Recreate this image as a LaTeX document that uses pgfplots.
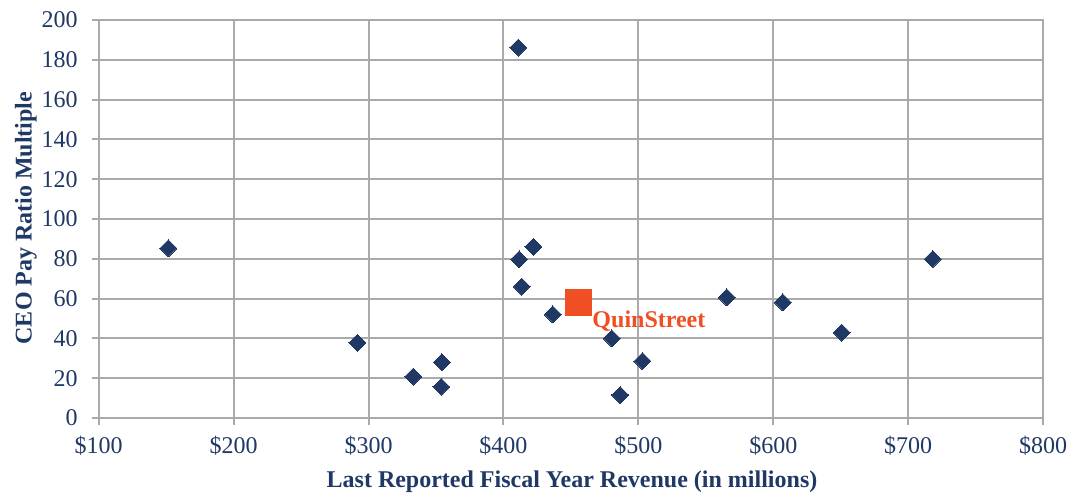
\documentclass[border=0pt]{standalone}
\usepackage{pgfplots}
\pgfplotsset{compat=1.18}
\usepackage{fontspec}
\setmainfont{Liberation Serif}
\definecolor{navy}{RGB}{31,56,100}
\definecolor{qorange}{RGB}{240,78,35}
\definecolor{gridgray}{RGB}{170,170,170}
\begin{document}
\begin{tikzpicture}
\path[use as bounding box] (-49.35pt,-37.5pt) rectangle (484.65pt,209pt);
\begin{axis}[
  at={(0,0)}, anchor=south west,
  scale only axis, width=472.2pt, height=199pt,
  xmin=100, xmax=800, ymin=0, ymax=200,
  xtick={100,200,...,800}, ytick={0,20,...,200},
  xticklabels={\$100,\$200,\$300,\$400,\$500,\$600,\$700,\$800},
  xtick pos=bottom, ytick pos=left,
  grid=major, major grid style={gridgray, line width=1pt},
  axis line style={gridgray, line width=1pt},
  tick style={gridgray, line width=1pt},
  tick align=outside, major tick length=3.5pt,
  tick label style={font=\fontsize{12}{14}\selectfont, text=navy},
  xticklabel style={yshift=-2pt},
  yticklabel style={xshift=-3.5pt},
  /pgf/number format/assume math mode=true,
  clip=false,
]
\addplot[only marks, mark=square*, mark size=3pt, mark options={rotate=45, fill=navy, draw=navy, line width=0pt}] coordinates {
  (151.6,85.3) (291.7,37.8) (333.2,20.8) (354.4,28.0) (353.9,15.7)
  (411.0,186.1) (411.6,79.7) (413.6,66.0) (422.2,86.1) (436.5,52.1)
  (480.3,40.0) (486.5,11.6) (503.0,28.6) (565.5,60.6) (607.0,58.1)
  (650.8,42.9) (718.2,79.9)
};
\addplot[only marks, mark=square*, mark size=6.5pt, mark options={fill=qorange, draw=qorange, line width=0pt}] coordinates {(455.5,58.0)};
\node[anchor=base west, inner sep=0pt, font=\bfseries\fontsize{12}{14}\selectfont, text=qorange] at (axis cs:465.7,45.7) {QuinStreet};
\end{axis}
\node[anchor=base, inner sep=0pt, font=\bfseries\fontsize{12}{14}\selectfont, text=navy] at (236.65pt,-34.5pt) {Last Reported Fiscal Year Revenue (in millions)};
\node[rotate=90, anchor=base, inner sep=0pt, font=\bfseries\fontsize{12}{14}\selectfont, text=navy] at (-33.5pt,100pt) {CEO Pay Ratio Multiple};
\end{tikzpicture}
\end{document}
